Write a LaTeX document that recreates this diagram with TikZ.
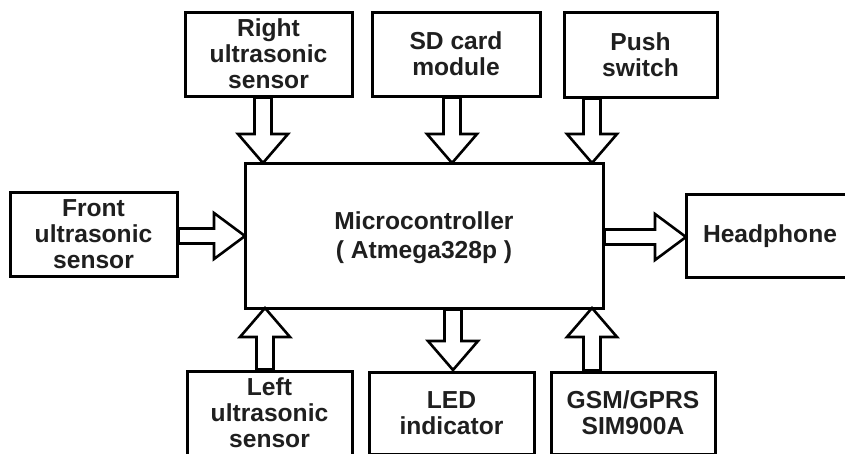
\documentclass[tikz,border=0pt]{standalone}
\usepackage{fontspec}
\setmainfont{Liberation Sans}
\usetikzlibrary{calc}
\tikzset{
  blk/.style={draw=black, line width=3pt, fill=white, inner sep=0pt, align=center,
    font=\fontsize{24.6}{26}\selectfont\bfseries, text=black!88},
  fat/.style={draw=black, line width=2.6pt, fill=white, line join=miter},
}
% vertical arrow: #1 start, #2 tip (works for up and down)
\newcommand{\vfat}[2]{%
  \draw[fat] let \p1=#1, \p2=#2, \n1={(\y2<\y1) ? 1 : -1} in
    (\x2-8.5pt,\y1) -- (\x2-8.5pt,\y2+\n1*29pt) -- (\x2-25pt,\y2+\n1*29pt) -- (\x2,\y2)
    -- (\x2+25pt,\y2+\n1*29pt) -- (\x2+8.5pt,\y2+\n1*29pt) -- (\x2+8.5pt,\y1) -- cycle;}
% horizontal arrow to the right: #1 start, #2 tip
\newcommand{\hfat}[2]{%
  \draw[fat] let \p1=#1, \p2=#2 in
    (\x1,\y2+7.5pt) -- (\x2-31pt,\y2+7.5pt) -- (\x2-31pt,\y2+23pt) -- (\x2,\y2)
    -- (\x2-31pt,\y2-23pt) -- (\x2-31pt,\y2-7.5pt) -- (\x1,\y2-7.5pt) -- cycle;}
\begin{document}
\begin{tikzpicture}[x=1pt,y=-1pt]
\useasboundingbox (0,0) rectangle (845,453);
% boxes
\node[blk, minimum width=167pt, minimum height=84pt] (rus) at (268.5,54) {Right\\ultrasonic\\sensor};
\node[blk, minimum width=168pt, minimum height=84pt] (sd) at (456,54) {SD card\\module};
\node[blk, minimum width=153pt, minimum height=85pt] (push) at (640.5,54.5) {Push\\switch};
\node[blk, minimum width=358pt, minimum height=145pt, text depth=0pt,
      font=\fontsize{24.6}{29}\selectfont\bfseries] (mc) at (424,235.5) {Microcontroller\\( Atmega328p )};
\node[blk, minimum width=167pt, minimum height=84pt] (front) at (93.5,234) {Front\\ultrasonic\\sensor};
\node[blk, minimum width=168pt, minimum height=83pt] (head) at (770,236) {Headphone};
\node[blk, minimum width=165pt, minimum height=84pt] (left) at (269.5,413) {Left\\ultrasonic\\sensor};
\node[blk, minimum width=165pt, minimum height=82pt] (led) at (451.5,413) {LED\\indicator};
\node[blk, minimum width=164pt, minimum height=82pt] (gsm) at (633,413) {GSM/GPRS\\SIM900A};
% arrow anchor coordinates
\coordinate (t1) at (263,163);
\coordinate (t2) at (452,163);
\coordinate (t3) at (592,163);
\vfat{(rus.south -| t1)}{(t1)}
\vfat{(sd.south -| t2)}{(t2)}
\vfat{(push.south -| t3)}{(t3)}
\coordinate (t4) at (245,236);
\hfat{(front.east |- t4)}{(t4)}
\coordinate (t5) at (686,237);
\hfat{(mc.east |- t5)}{(t5)}
\coordinate (t6) at (265,308);
\vfat{(left.north -| t6)}{(t6)}
\coordinate (t7) at (453,370);
\vfat{(mc.south -| t7)}{(t7)}
\coordinate (t8) at (592,308);
\vfat{(gsm.north -| t8)}{(t8)}
\end{tikzpicture}
\end{document}
